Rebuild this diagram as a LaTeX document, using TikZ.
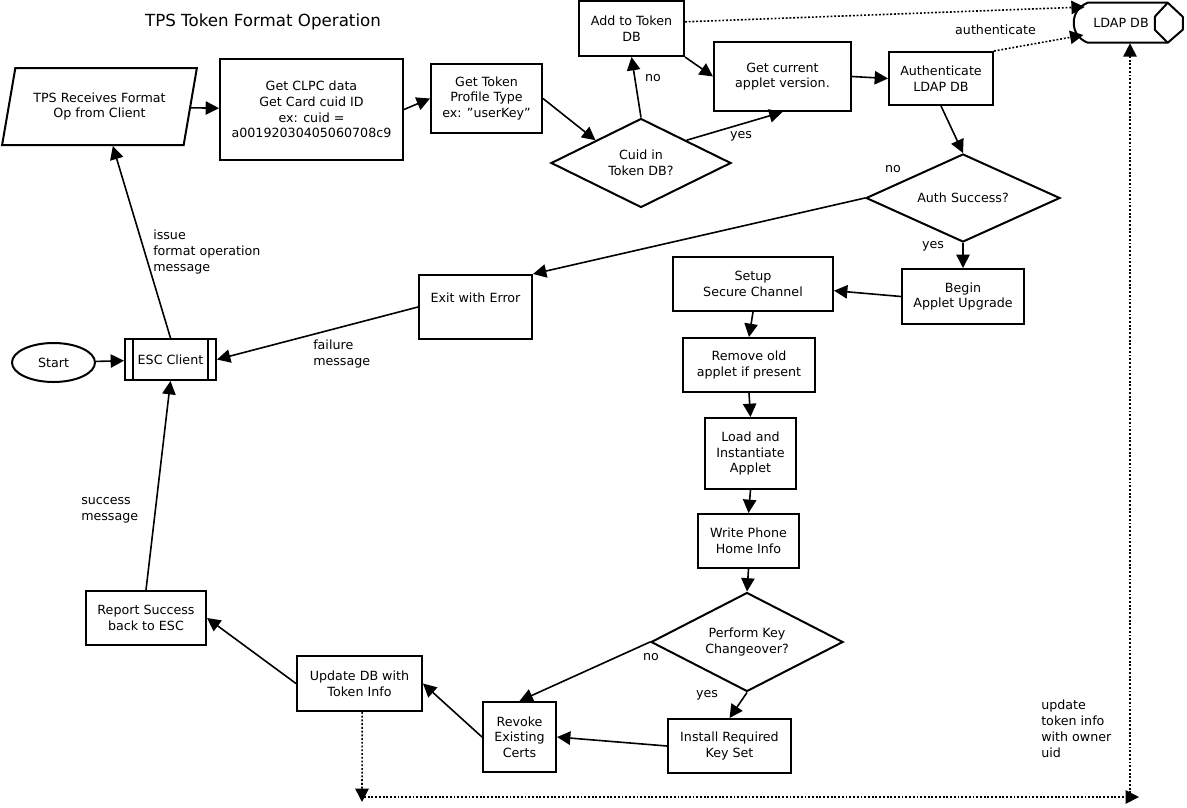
\documentclass[tikz,border=0pt]{standalone}
\usepackage{fontspec}
\setmainfont{DejaVu Sans}
\usetikzlibrary{shapes.geometric, arrows.meta}

\begin{document}
\begin{tikzpicture}[x=0.75pt, y=-0.75pt,
    every node/.style={font=\fontsize{9.5}{11.8}\selectfont},
    box/.style={draw, line width=1.5pt, align=center, inner sep=2pt},
    decision/.style={draw, diamond, aspect=2, line width=1.5pt, align=center, inner sep=0pt},
    flow/.style={line width=1.2pt, -{Triangle[length=10pt, width=10pt]}},
    dotflow/.style={flow, dash pattern=on 1.4pt off 1.4pt},
    note/.style={align=left, inner sep=0pt, anchor=north west}]
    \useasboundingbox (0,0) rectangle (1187,807);

    % title
    \node[font=\fontsize{12.5}{15}\selectfont] (title) at (263,22) {TPS Token Format Operation};

    % top row
    \node[box, trapezium, trapezium left angle=72, trapezium right angle=108, trapezium stretches=true,
          minimum width=146.25pt, minimum height=57.75pt] (input) at (99.5,106.5) {TPS Receives Format\\Op from Client};
    \node[box, minimum width=137.25pt, minimum height=75.75pt] (clpc) at (311.5,109.5) {Get CLPC data\\Get Card cuid ID\\ex: cuid =\\a00192030405060708c9};
    \node[box, minimum width=83.25pt, minimum height=51.75pt] (profile) at (486.5,98.5) {Get Token\\Profile Type\\ex: "userKey"};
    \node[decision, minimum width=135pt, minimum height=66.75pt] (cuid) at (641,163) {Cuid in\\Token DB?};
    \node[box, minimum width=78.75pt, minimum height=41.25pt] (addtoken) at (631.5,28.5) {Add to Token\\DB};
    \node[box, minimum width=102.75pt, minimum height=51.75pt] (getcurrent) at (782.5,76.5) {Get current\\applet version.};
    \node[box, minimum width=78pt, minimum height=39.75pt] (authldap) at (941,78.5) {Authenticate\\LDAP DB};
    \node[decision, minimum width=145.5pt, minimum height=66pt] (authsuccess) at (963,198) {Auth Success?};

    % ldap store, outline drawn round the node
    \node[minimum width=72pt, minimum height=30pt, inner sep=0pt] (ldap) at (1121,23) {LDAP DB};
    \draw[line width=1.5pt, line join=round]
        ([shift={(15,0)}]ldap.north west) -- ([shift={(95,0)}]ldap.north west)
        -- ([shift={(110,14)}]ldap.north west) -- ([shift={(110,27)}]ldap.north west)
        -- ([shift={(95,40)}]ldap.north west) -- ([shift={(15,40)}]ldap.north west)
        .. controls ([shift={(5,36)}]ldap.north west) and ([shift={(1,28)}]ldap.north west) .. ([shift={(1,20)}]ldap.north west)
        .. controls ([shift={(1,12)}]ldap.north west) and ([shift={(5,4)}]ldap.north west) .. cycle;
    \draw[line width=1.5pt, line join=round]
        ([shift={(95,0)}]ldap.north west) -- ([shift={(82,14)}]ldap.north west)
        -- ([shift={(82,27)}]ldap.north west) -- ([shift={(95,40)}]ldap.north west);

    % left column
    \node[draw, ellipse, line width=1.5pt, minimum width=62.25pt, minimum height=29.25pt] (start) at (53.5,362.5) {Start};
    \node[box, minimum width=68.25pt, minimum height=30.75pt,
          path picture={
            \draw[line width=1.5pt] ([xshift=6pt]path picture bounding box.north west) -- ([xshift=6pt]path picture bounding box.south west);
            \draw[line width=1.5pt] ([xshift=-6pt]path picture bounding box.north east) -- ([xshift=-6pt]path picture bounding box.south east);
          }] (esc) at (170.5,359.5) {ESC Client};
    \node[box, minimum width=84.75pt, minimum height=48pt] (exit) at (475.5,307) {Exit with Error\\[1.7pt]};
    \node[box, minimum width=90pt, minimum height=40.5pt] (report) at (146,618) {Report Success\\back to ESC};

    % upgrade chain
    \node[box, minimum width=91.5pt, minimum height=41.25pt] (begin) at (963,296.5) {Begin\\Applet Upgrade};
    \node[box, minimum width=120pt, minimum height=40.5pt] (setup) at (753,284) {Setup\\Secure Channel};
    \node[box, minimum width=99pt, minimum height=40.5pt] (remove) at (749,365) {Remove old\\applet if present};
    \node[box, minimum width=68.25pt, minimum height=53.25pt] (load) at (750.5,453.5) {Load and\\Instantiate\\Applet};
    \node[box, minimum width=75.75pt, minimum height=40.5pt] (write) at (748.5,541) {Write Phone\\Home Info};
    \node[decision, minimum width=144pt, minimum height=74.25pt] (perform) at (747,642) {Perform Key\\Changeover?};
    \node[box, minimum width=92.25pt, minimum height=40.5pt] (install) at (729.5,746) {Install Required\\Key Set};
    \node[box, minimum width=54.75pt, minimum height=52.5pt] (revoke) at (519.5,737) {Revoke\\Existing\\Certs};
    \node[box, minimum width=93.75pt, minimum height=41.25pt] (updatedb) at (359.5,683.5) {Update DB with\\Token Info};

    % free ends of the dotted return path
    \coordinate (dbdown) at (362,802);
    \coordinate (botleft) at (364,797);
    \coordinate (botright) at (1139,797);
    \coordinate (upstart) at (1130,797);

    % connectors
    \draw[flow] (start) -- (esc);
    \draw[flow] (esc.north) -- ([xshift=10pt]input.south);
    \draw[flow] (input) -- (clpc);
    \draw[flow] (clpc.east) -- (profile.west);
    \draw[flow] (profile.east) -- (cuid.north west);
    \draw[flow] (cuid.north) -- (addtoken.south);
    \draw[flow] (cuid.north east) -- (getcurrent.south);
    \draw[flow] (addtoken.south east) -- (getcurrent.west);
    \draw[flow] (getcurrent.east) -- (authldap.west);
    \draw[dotflow] ([yshift=5pt]addtoken.east) -- ([xshift=9pt, yshift=12pt]ldap.west);
    \draw[dotflow] (authldap.north east) -- ([xshift=8pt, yshift=-9pt]ldap.west);
    \draw[flow] (authldap.south) -- (authsuccess.north);
    \draw[flow] (authsuccess.west) -- (exit.north east);
    \draw[flow] (authsuccess.south) -- (begin.north);
    \draw[flow] (begin.west) -- ([yshift=-5pt]setup.east);
    \draw[flow] (setup.south) -- (remove.north);
    \draw[flow] (remove.south) -- (load.north);
    \draw[flow] (load.south) -- (write.north);
    \draw[flow] (write.south) -- (perform.north);
    \draw[flow] (perform.west) -- (revoke.north);
    \draw[flow] (perform.south) -- (install.north);
    \draw[flow] (install.west) -- (revoke.east);
    \draw[flow] (revoke.west) -- (updatedb.east);
    \draw[flow] (updatedb.west) -- (report.east);
    \draw[flow] (report.north) -- (esc.south);
    \draw[flow] (exit.west) -- (esc.east);
    \draw[dotflow] ([xshift=2pt]updatedb.south) -- (dbdown);
    \draw[dotflow] (botleft) -- (botright);
    \draw[dotflow] (upstart) -- (upstart |- ldap.south);

    % connector texts
    \node (lblno1) at (653,78) {no};
    \node (lblyes1) at (741,136) {yes};
    \node (lblauth) at (995.5,30) {authenticate};
    \node (lblno2) at (893,169) {no};
    \node (lblyes2) at (933,246) {yes};
    \node (lblno3) at (651,657) {no};
    \node (lblyes3) at (707,695) {yes};
    \node[note] (lblissue) at (153,230) {issue\\format operation\\message};
    \node[note] (lblfail) at (313,340) {failure\\message};
    \node[note] (lblsucc) at (81,497) {success\\message};
    \node[note] (lblupd) at (1041,700) {update\\token info\\with owner\\uid};
\end{tikzpicture}
\end{document}
